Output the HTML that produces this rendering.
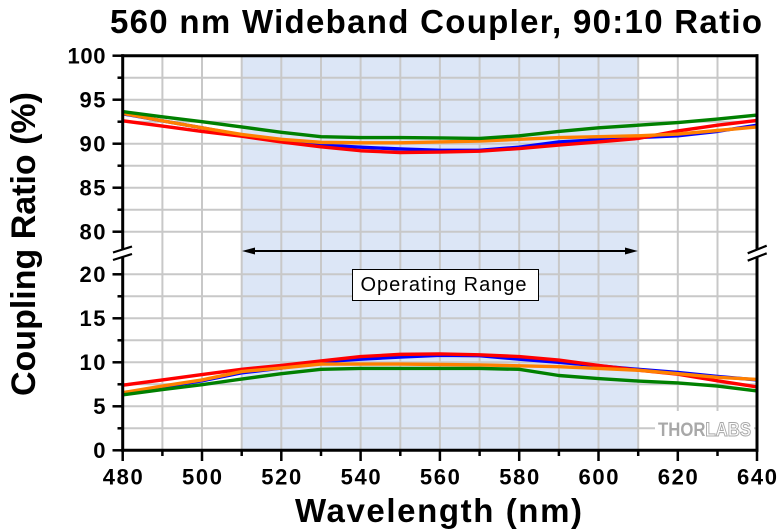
<!DOCTYPE html>
<html>
<head>
<meta charset="utf-8">
<style>
  html, body { margin: 0; padding: 0; background: #ffffff; }
  svg { display: block; }
  text { font-family: "Liberation Sans", Arial, sans-serif; }
</style>
</head>
<body>
<svg width="780" height="532" viewBox="0 0 780 532" xmlns="http://www.w3.org/2000/svg">
  <rect x="0" y="0" width="780" height="532" fill="#ffffff"/>

  <!-- Operating range shading -->
  <rect x="241.7" y="55.7" width="396.5" height="394.6" fill="#dce6f6"/>

  <!-- Vertical gridlines -->
  <g stroke="#c8c8c8" stroke-width="2">
    <line x1="162.4" y1="56" x2="162.4" y2="450"/>
    <line x1="202" y1="56" x2="202" y2="450"/>
    <line x1="241.7" y1="56" x2="241.7" y2="450"/>
    <line x1="281.3" y1="56" x2="281.3" y2="450"/>
    <line x1="321" y1="56" x2="321" y2="450"/>
    <line x1="360.6" y1="56" x2="360.6" y2="450"/>
    <line x1="400.3" y1="56" x2="400.3" y2="450"/>
    <line x1="439.9" y1="56" x2="439.9" y2="450"/>
    <line x1="479.6" y1="56" x2="479.6" y2="450"/>
    <line x1="519.2" y1="56" x2="519.2" y2="450"/>
    <line x1="558.9" y1="56" x2="558.9" y2="450"/>
    <line x1="598.5" y1="56" x2="598.5" y2="450"/>
    <line x1="638.2" y1="56" x2="638.2" y2="450"/>
    <line x1="677.8" y1="56" x2="677.8" y2="450"/>
    <line x1="717.5" y1="56" x2="717.5" y2="450"/>
  </g>
  <!-- Horizontal gridlines -->
  <g stroke="#c8c8c8" stroke-width="2">
    <line x1="123" y1="77.7" x2="757" y2="77.7"/>
    <line x1="123" y1="99.7" x2="757" y2="99.7"/>
    <line x1="123" y1="121.7" x2="757" y2="121.7"/>
    <line x1="123" y1="143.7" x2="757" y2="143.7"/>
    <line x1="123" y1="165.7" x2="757" y2="165.7"/>
    <line x1="123" y1="187.7" x2="757" y2="187.7"/>
    <line x1="123" y1="209.7" x2="757" y2="209.7"/>
    <line x1="123" y1="231.7" x2="757" y2="231.7"/>
    <line x1="123" y1="274.3" x2="757" y2="274.3"/>
    <line x1="123" y1="296.3" x2="757" y2="296.3"/>
    <line x1="123" y1="318.3" x2="757" y2="318.3"/>
    <line x1="123" y1="340.3" x2="757" y2="340.3"/>
    <line x1="123" y1="362.3" x2="757" y2="362.3"/>
    <line x1="123" y1="384.3" x2="757" y2="384.3"/>
    <line x1="123" y1="406.3" x2="757" y2="406.3"/>
    <line x1="123" y1="428.3" x2="757" y2="428.3"/>
  </g>

  <!-- THORLABS logo -->
  <rect x="655" y="411" width="99" height="38" fill="#ffffff"/>
  <text x="658" y="436" font-size="19" font-weight="bold" textLength="93" lengthAdjust="spacingAndGlyphs"><tspan fill="#a8a8a8">THOR</tspan><tspan fill="#ffffff" stroke="#a8a8a8" stroke-width="1">LABS</tspan></text>

  <!-- Top section curves (data coords) -->
  <g transform="matrix(3.965,0,0,-8.8,-1780.5,935.7)" fill="none" stroke-width="3.4" stroke-linejoin="round" stroke-linecap="butt">
    <polyline vector-effect="non-scaling-stroke" stroke="#0000ff" points="480,93.4 490,92.6 500,91.8 510,91.0 520,90.4 530,89.85 540,89.6 550,89.4 560,89.25 570,89.25 580,89.6 590,90.2 600,90.45 610,90.7 620,90.9 630,91.4 640,92.1"/>
    <polyline vector-effect="non-scaling-stroke" stroke="#ff0000" points="480,92.6 490,92.0 500,91.4 510,90.85 520,90.2 530,89.65 540,89.2 550,89.0 560,89.05 570,89.15 580,89.45 590,89.85 600,90.2 610,90.6 620,91.45 630,92.1 640,92.65"/>
    <polyline vector-effect="non-scaling-stroke" stroke="#ff8000" points="480,93.45 490,92.6 500,91.8 510,91.05 520,90.5 530,90.15 540,90.1 550,90.1 560,90.2 570,90.3 580,90.5 590,90.7 600,90.8 610,90.9 620,91.1 630,91.5 640,91.9"/>
    <polyline vector-effect="non-scaling-stroke" stroke="#008000" points="480,93.65 490,93.05 500,92.5 510,91.9 520,91.3 530,90.8 540,90.7 550,90.7 560,90.65 570,90.6 580,90.9 590,91.4 600,91.8 610,92.1 620,92.4 630,92.8 640,93.25"/>
  </g>

  <!-- Bottom section curves (data coords) -->
  <g transform="matrix(3.965,0,0,-8.8,-1780.5,450.3)" fill="none" stroke-width="3.4" stroke-linejoin="round" stroke-linecap="butt">
    <polyline vector-effect="non-scaling-stroke" stroke="#0000ff" points="480,6.5 490,7.2 500,7.9 510,8.8 520,9.35 530,10.05 540,10.35 550,10.6 560,10.8 570,10.75 580,10.35 590,10.0 600,9.6 610,9.2 620,8.85 630,8.4 640,8.0"/>
    <polyline vector-effect="non-scaling-stroke" stroke="#ff0000" points="480,7.4 490,8.0 500,8.6 510,9.2 520,9.65 530,10.15 540,10.65 550,10.9 560,10.95 570,10.85 580,10.65 590,10.25 600,9.65 610,9.1 620,8.65 630,7.9 640,7.2"/>
    <polyline vector-effect="non-scaling-stroke" stroke="#ff8000" points="480,6.55 490,7.3 500,8.0 510,8.95 520,9.35 530,9.8 540,9.8 550,9.8 560,9.75 570,9.7 580,9.6 590,9.5 600,9.3 610,9.1 620,8.7 630,8.3 640,8.05"/>
    <polyline vector-effect="non-scaling-stroke" stroke="#008000" points="480,6.3 490,6.9 500,7.45 510,8.1 520,8.7 530,9.2 540,9.3 550,9.3 560,9.3 570,9.3 580,9.2 590,8.5 600,8.15 610,7.87 620,7.65 630,7.3 640,6.75"/>
  </g>

  <!-- Operating range arrow -->
  <line x1="250" y1="251" x2="630" y2="251" stroke="#000" stroke-width="2"/>
  <polygon points="242,251 255,247.5 255,254.5" fill="#000"/>
  <polygon points="638,251 625,247.5 625,254.5" fill="#000"/>

  <!-- Operating range label -->
  <rect x="352.5" y="269.5" width="186" height="31" fill="#ffffff" stroke="#000" stroke-width="1"/>
  <text x="360.5" y="291" font-size="20" textLength="166" lengthAdjust="spacing" fill="#000">Operating Range</text>

  <!-- Axes frame -->
  <g stroke="#000" stroke-width="3" fill="none">
    <line x1="122.7" y1="54.2" x2="122.7" y2="451.8"/>
    <line x1="757" y1="54.2" x2="757" y2="451.8"/>
    <line x1="121.2" y1="55.7" x2="758.5" y2="55.7"/>
    <line x1="121.2" y1="450.3" x2="758.5" y2="450.3"/>
  </g>

  <!-- Axis breaks -->
  <polygon points="112,253 132,246 132,254 112,261" fill="#ffffff"/>
  <line x1="113" y1="252.5" x2="132" y2="246.5" stroke="#000" stroke-width="2.2"/>
  <line x1="113" y1="260" x2="132" y2="254" stroke="#000" stroke-width="2.2"/>
  <polygon points="747,254 767,246 767,254 747,262" fill="#ffffff"/>
  <line x1="747.7" y1="253.3" x2="766.7" y2="245.7" stroke="#000" stroke-width="2.2"/>
  <line x1="747.7" y1="260.7" x2="766.7" y2="253.3" stroke="#000" stroke-width="2.2"/>

  <!-- Y ticks -->
  <g stroke="#000" stroke-width="2.5">
    <line x1="112.5" y1="55.7" x2="122.7" y2="55.7"/>
    <line x1="112.5" y1="99.7" x2="122.7" y2="99.7"/>
    <line x1="112.5" y1="143.7" x2="122.7" y2="143.7"/>
    <line x1="112.5" y1="187.7" x2="122.7" y2="187.7"/>
    <line x1="112.5" y1="231.7" x2="122.7" y2="231.7"/>
    <line x1="117.5" y1="77.7" x2="122.7" y2="77.7"/>
    <line x1="117.5" y1="121.7" x2="122.7" y2="121.7"/>
    <line x1="117.5" y1="165.7" x2="122.7" y2="165.7"/>
    <line x1="117.5" y1="209.7" x2="122.7" y2="209.7"/>
    <line x1="112.5" y1="274.3" x2="122.7" y2="274.3"/>
    <line x1="112.5" y1="318.3" x2="122.7" y2="318.3"/>
    <line x1="112.5" y1="362.3" x2="122.7" y2="362.3"/>
    <line x1="112.5" y1="406.3" x2="122.7" y2="406.3"/>
    <line x1="112.5" y1="450.3" x2="122.7" y2="450.3"/>
    <line x1="117.5" y1="296.3" x2="122.7" y2="296.3"/>
    <line x1="117.5" y1="340.3" x2="122.7" y2="340.3"/>
    <line x1="117.5" y1="384.3" x2="122.7" y2="384.3"/>
    <line x1="117.5" y1="428.3" x2="122.7" y2="428.3"/>
  </g>

  <!-- X ticks -->
  <g stroke="#000" stroke-width="2.5">
    <line x1="122.7" y1="450" x2="122.7" y2="461"/>
    <line x1="202" y1="450" x2="202" y2="461"/>
    <line x1="281.3" y1="450" x2="281.3" y2="461"/>
    <line x1="360.6" y1="450" x2="360.6" y2="461"/>
    <line x1="439.9" y1="450" x2="439.9" y2="461"/>
    <line x1="519.2" y1="450" x2="519.2" y2="461"/>
    <line x1="598.5" y1="450" x2="598.5" y2="461"/>
    <line x1="677.8" y1="450" x2="677.8" y2="461"/>
    <line x1="757" y1="450" x2="757" y2="461"/>
    <line x1="162.4" y1="450" x2="162.4" y2="456"/>
    <line x1="241.7" y1="450" x2="241.7" y2="456"/>
    <line x1="321" y1="450" x2="321" y2="456"/>
    <line x1="400.3" y1="450" x2="400.3" y2="456"/>
    <line x1="479.6" y1="450" x2="479.6" y2="456"/>
    <line x1="558.9" y1="450" x2="558.9" y2="456"/>
    <line x1="638.2" y1="450" x2="638.2" y2="456"/>
    <line x1="717.5" y1="450" x2="717.5" y2="456"/>
  </g>

  <!-- Y tick labels -->
  <g font-size="22" font-weight="bold" fill="#000" text-anchor="end">
    <text x="105.5" y="63.5" textLength="38" lengthAdjust="spacing">100</text>
    <text x="105.5" y="107.5" textLength="26" lengthAdjust="spacing">95</text>
    <text x="105.5" y="151.5" textLength="26" lengthAdjust="spacing">90</text>
    <text x="105.5" y="195.5" textLength="26" lengthAdjust="spacing">85</text>
    <text x="105.5" y="239.5" textLength="26" lengthAdjust="spacing">80</text>
    <text x="105.5" y="282" textLength="26" lengthAdjust="spacing">20</text>
    <text x="105.5" y="326" textLength="26" lengthAdjust="spacing">15</text>
    <text x="105.5" y="370" textLength="26" lengthAdjust="spacing">10</text>
    <text x="105.5" y="414">5</text>
    <text x="105.5" y="458">0</text>
  </g>

  <!-- X tick labels -->
  <g font-size="22" font-weight="bold" fill="#000" text-anchor="middle">
    <text x="122.7" y="484.5" textLength="40" lengthAdjust="spacing">480</text>
    <text x="202" y="484.5" textLength="40" lengthAdjust="spacing">500</text>
    <text x="281.3" y="484.5" textLength="40" lengthAdjust="spacing">520</text>
    <text x="360.6" y="484.5" textLength="40" lengthAdjust="spacing">540</text>
    <text x="439.9" y="484.5" textLength="40" lengthAdjust="spacing">560</text>
    <text x="519.2" y="484.5" textLength="40" lengthAdjust="spacing">580</text>
    <text x="598.5" y="484.5" textLength="40" lengthAdjust="spacing">600</text>
    <text x="677.8" y="484.5" textLength="40" lengthAdjust="spacing">620</text>
    <text x="757" y="484.5" textLength="40" lengthAdjust="spacing">640</text>
  </g>

  <!-- Title -->
  <text x="110" y="33" font-size="33" font-weight="bold" fill="#000" textLength="652" lengthAdjust="spacing">560 nm Wideband Coupler, 90:10 Ratio</text>

  <!-- X axis label -->
  <text x="295" y="522" font-size="33" font-weight="bold" fill="#000" textLength="287" lengthAdjust="spacing">Wavelength (nm)</text>

  <!-- Y axis label -->
  <text transform="translate(35,396) rotate(-90)" x="0" y="0" font-size="34" font-weight="bold" fill="#000" textLength="304" lengthAdjust="spacing">Coupling Ratio (%)</text>
</svg>
</body>
</html>
